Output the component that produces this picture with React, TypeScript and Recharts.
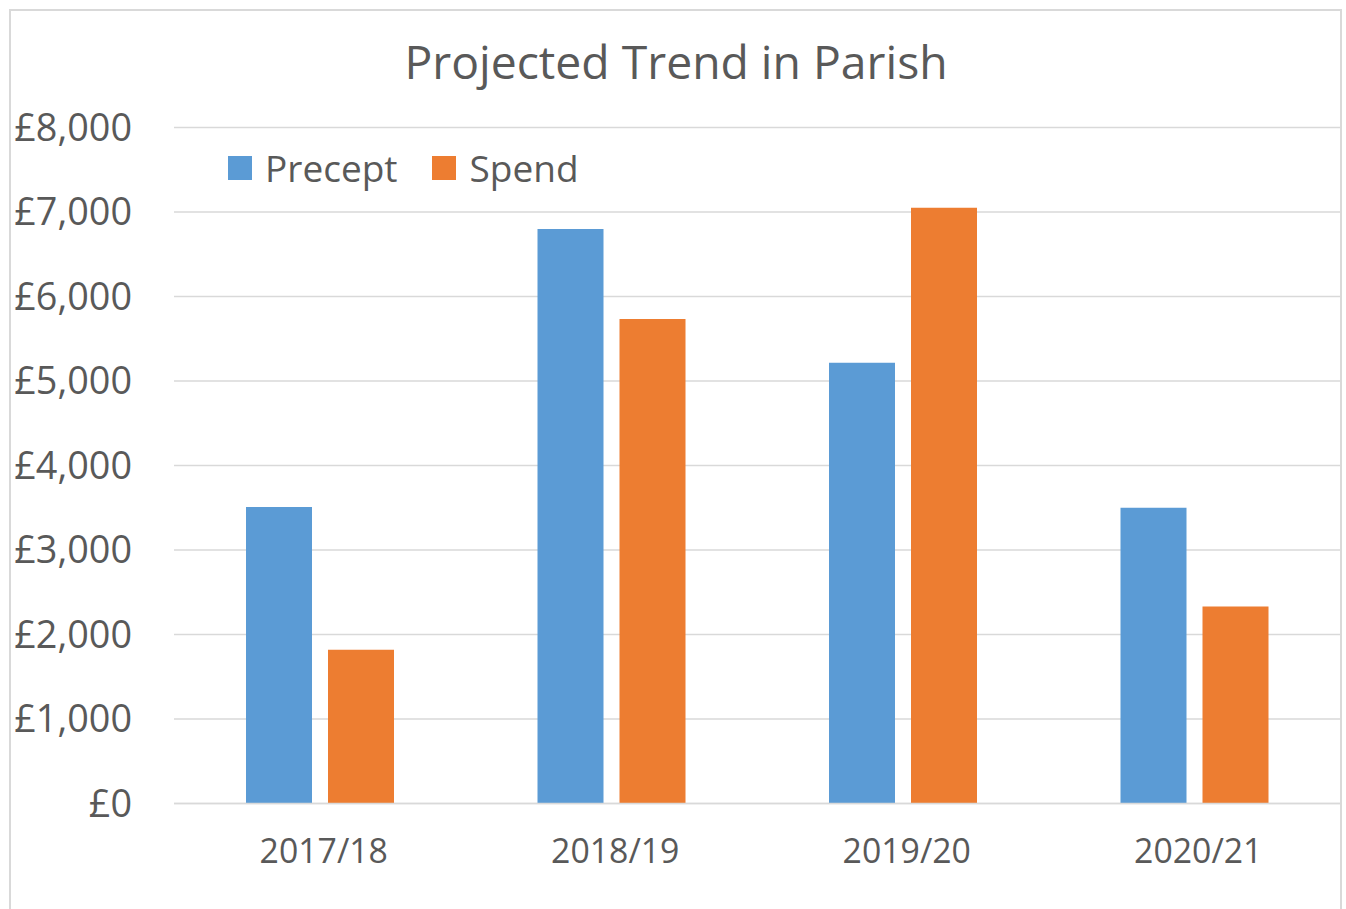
import { Bar, BarChart, CartesianGrid, XAxis, YAxis } from "recharts";

const years = ["2017/18", "2018/19", "2019/20", "2020/21"];
const precept = [3510, 6800, 5215, 3500];
const spend = [1820, 5735, 7050, 2330];
const yTicks = [0, 1000, 2000, 3000, 4000, 5000, 6000, 7000, 8000];

const series = [
  { key: "Precept", color: "#5B9BD5" },
  { key: "Spend", color: "#ED7D31" },
];

const data = years.map((year, i) => ({ year, Precept: precept[i], Spend: spend[i] }));

const INK = "#595959";
const GRID = "#d9d9d9";
const FONT = "'Open Sans', sans-serif";

// Excel-style legend drawn in HTML so it doesn't eat plot space.
function ExcelLegend() {
  return (
    <div style={{ position: "absolute", left: 228, top: 148, display: "flex", alignItems: "center", fontFamily: FONT }}>
      {series.map((s, i) => (
        <div key={s.key} style={{ display: "flex", alignItems: "center", marginRight: i === 0 ? 35 : 0 }}>
          <span style={{ width: 24, height: 24, background: s.color, display: "inline-block", marginRight: 13 }} />
          <span style={{ fontSize: 37, color: INK, lineHeight: "40px" }}>{s.key}</span>
        </div>
      ))}
    </div>
  );
}

export default function App() {
  return (
    <div style={{ position: "fixed", left: 0, top: 0, width: 1346, height: 909, overflow: "hidden", background: "#fff" }}>
      <div
        style={{
          position: "absolute",
          left: 9,
          top: 9,
          width: 1329,
          height: 960,
          border: `2px solid ${GRID}`,
        }}
      />
      <svg width={1346} height={100} style={{ position: "absolute", left: 0, top: 0 }}>
        <text x={676} y={79} textAnchor="middle" fontFamily={FONT} fontSize={46.3} fill={INK}>
          Projected Trend in Parish
        </text>
      </svg>
      <div style={{ position: "absolute", left: 0, top: 0 }}>
        <BarChart
          width={1346}
          height={909}
          data={data}
          margin={{ top: 127.5, right: 6, bottom: 0, left: 0 }}
          barSize={66}
          barGap={16}
        >
          <CartesianGrid vertical={false} stroke={GRID} strokeWidth={1.6} />
          <XAxis
            dataKey="year"
            height={105.5}
            axisLine={{ stroke: GRID, strokeWidth: 1.6 }}
            tickLine={false}
            tickSize={0}
            tickMargin={36}
            tick={{ fill: INK, fontSize: 33.8, fontFamily: FONT, dx: 4 }}
          />
          <YAxis
            width={174}
            domain={[0, 8000]}
            ticks={yTicks}
            axisLine={false}
            tickLine={false}
            tickSize={0}
            tickMargin={42}
            tick={{ fill: INK, fontSize: 37.8, fontFamily: FONT }}
            tickFormatter={(v: number) => `£${v.toLocaleString("en-GB")}`}
          />
          {series.map((s) => (
            <Bar key={s.key} dataKey={s.key} fill={s.color} isAnimationActive={false} />
          ))}
        </BarChart>
      </div>
      <ExcelLegend />
    </div>
  );
}
